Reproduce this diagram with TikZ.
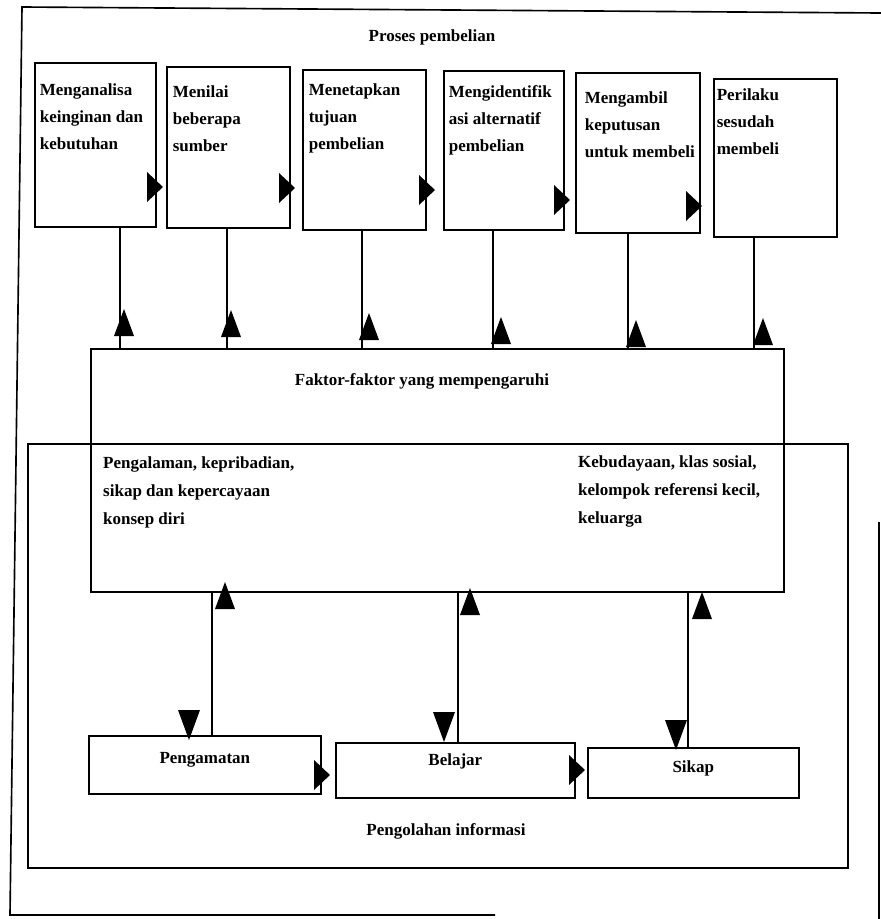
\documentclass[tikz,border=0pt]{standalone}
\usepackage{fontspec}
\setmainfont{Liberation Serif}
\usetikzlibrary{calc}
\newlength{\pxunit}\setlength{\pxunit}{0.3mm}
% top-left aligned text block inside a box: width, height, left pad, top gap, lines
\newcommand{\tbx}[5]{\begin{minipage}[t][#2\pxunit][t]{#1\pxunit}\vspace*{#4\pxunit}\hspace*{#3\pxunit}\begin{tabular}[t]{@{}l@{}}#5\end{tabular}\end{minipage}}
% centred one-line text near the top of a box: width, height, top gap, text
\newcommand{\cbx}[4]{\begin{minipage}[t][#2\pxunit][t]{#1\pxunit}\vspace*{#3\pxunit}\centering\strut #4\par\end{minipage}}
\tikzset{
  uptri/.pic={\fill (0,0) -- (10,27) -- (-10,27) -- cycle;},
  dntri/.pic={\fill (0,0) -- (11,-30) -- (-11,-30) -- cycle;},
  rtri/.pic={\fill (0,0) -- (-16,-15) -- (-16,15) -- cycle;},
  box/.style={draw, line width=1.4pt, inner sep=0pt, anchor=north west},
  conn/.style={line width=1.1pt},
  frame/.style={line width=1.4pt},
  txt/.style={inner sep=0pt},
  txtb/.style={inner sep=0pt, font=\fontsize{14.5pt}{23.9pt}\selectfont\bfseries}
}
\begin{document}
\begin{tikzpicture}[x=0.3mm, y=-0.3mm, font=\fontsize{14.5pt}{23.05pt}\selectfont\bfseries]
\useasboundingbox (0,0) rectangle (881,919);
\fill[white] (0,0) rectangle (881,919);

% outer frame (scanned, partly cropped)
\draw[frame] (881,13) -- (22,7) -- (10,915) -- (495,915);
\draw[frame] (879,522) -- (879,919);

\node[txt, anchor=base] (title) at (432,41) {Proses pembelian};

% top row of process boxes
\node[box] (b1) at (34,62)  {\tbx{121}{164}{5}{14}{Menganalisa\\keinginan dan\\kebutuhan}};
\node[box] (b2) at (166,66) {\tbx{123}{161}{6}{12}{Menilai\\beberapa\\sumber}};
\node[box] (b3) at (302,69) {\tbx{123}{160}{6}{7}{Menetapkan\\tujuan\\pembelian}};
\node[box] (b4) at (443,70) {\tbx{120}{159}{5}{8}{Mengidentifik\\asi alternatif\\pembelian}};
\node[box] (b5) at (575,72) {\tbx{124}{160}{9}{12}{Mengambil\\keputusan\\untuk membeli}};
\node[box] (b6) at (713,78) {\tbx{123}{158}{3}{3}{Perilaku\\sesudah\\membeli}};

% arrowheads between the top boxes
\pic at (163,187) {rtri};
\pic at (295,188) {rtri};
\pic at (435,190) {rtri};
\pic at (570,200) {rtri};
\pic at (702,206) {rtri};

% factors box
\node[box, minimum width=693\pxunit, minimum height=243\pxunit] (F) at (90,348) {};
\node[txt, anchor=base] (Ft) at (422,385) {Faktor-faktor yang mempengaruhi};
\node[txtb, anchor=base west] (Fl) at (103,468) {\begin{tabular}[t]{@{}l@{}}Pengalaman, kepribadian,\\sikap dan kepercayaan\\konsep diri\end{tabular}};
\node[txtb, anchor=base west] (Fr) at (578,467) {\begin{tabular}[t]{@{}l@{}}Kebudayaan, klas sosial,\\kelompok referensi kecil,\\keluarga\end{tabular}};

% information processing box
\node[box, minimum width=820\pxunit, minimum height=424\pxunit] (P) at (27,443) {};
\node[txt, anchor=base] (Pt) at (446,835) {Pengolahan informasi};

% lower boxes
\node[box] (l1) at (88,735)  {\cbx{232}{58}{9}{Pengamatan}};
\node[box] (l2) at (335,742) {\cbx{239}{55}{4}{Belajar}};
\node[box] (l3) at (587,747) {\cbx{211}{50}{6}{Sikap}};
\pic at (330,775) {rtri};
\pic at (585,770) {rtri};

% connectors: top boxes to factors box
\draw[conn] ($(b1.south west)+(86,0)$) coordinate (c1) -- (c1 |- F.north);
\draw[conn] ($(b2.south west)+(61,0)$) coordinate (c2) -- (c2 |- F.north);
\draw[conn] ($(b3.south west)+(60,0)$) coordinate (c3) -- (c3 |- F.north);
\draw[conn] ($(b4.south west)+(50,0)$) coordinate (c4) -- (c4 |- F.north);
\draw[conn] ($(b5.south west)+(53,0)$) coordinate (c5) -- (c5 |- F.north);
\draw[conn] ($(b6.south west)+(41,0)$) coordinate (c6) -- (c6 |- F.north);
\pic at (124,309) {uptri};
\pic at (231,310) {uptri};
\pic at (369,313) {uptri};
\pic at (501,317) {uptri};
\pic at (636,320) {uptri};
\pic at (763,318) {uptri};

% connectors: factors box to lower boxes
\draw[conn] ($(l1.north west)+(124,0)$) coordinate (d1) -- (d1 |- F.south);
\draw[conn] ($(l2.north west)+(123,0)$) coordinate (d2) -- (d2 |- F.south);
\draw[conn] ($(l3.north west)+(101,0)$) coordinate (d3) -- (d3 |- F.south);
\pic at (225,582) {uptri};
\pic at (470,588) {uptri};
\pic at (702,592) {uptri};
\pic at (189,740) {dntri};
\pic at (444,742) {dntri};
\pic at (676,750) {dntri};
\end{tikzpicture}
\end{document}
